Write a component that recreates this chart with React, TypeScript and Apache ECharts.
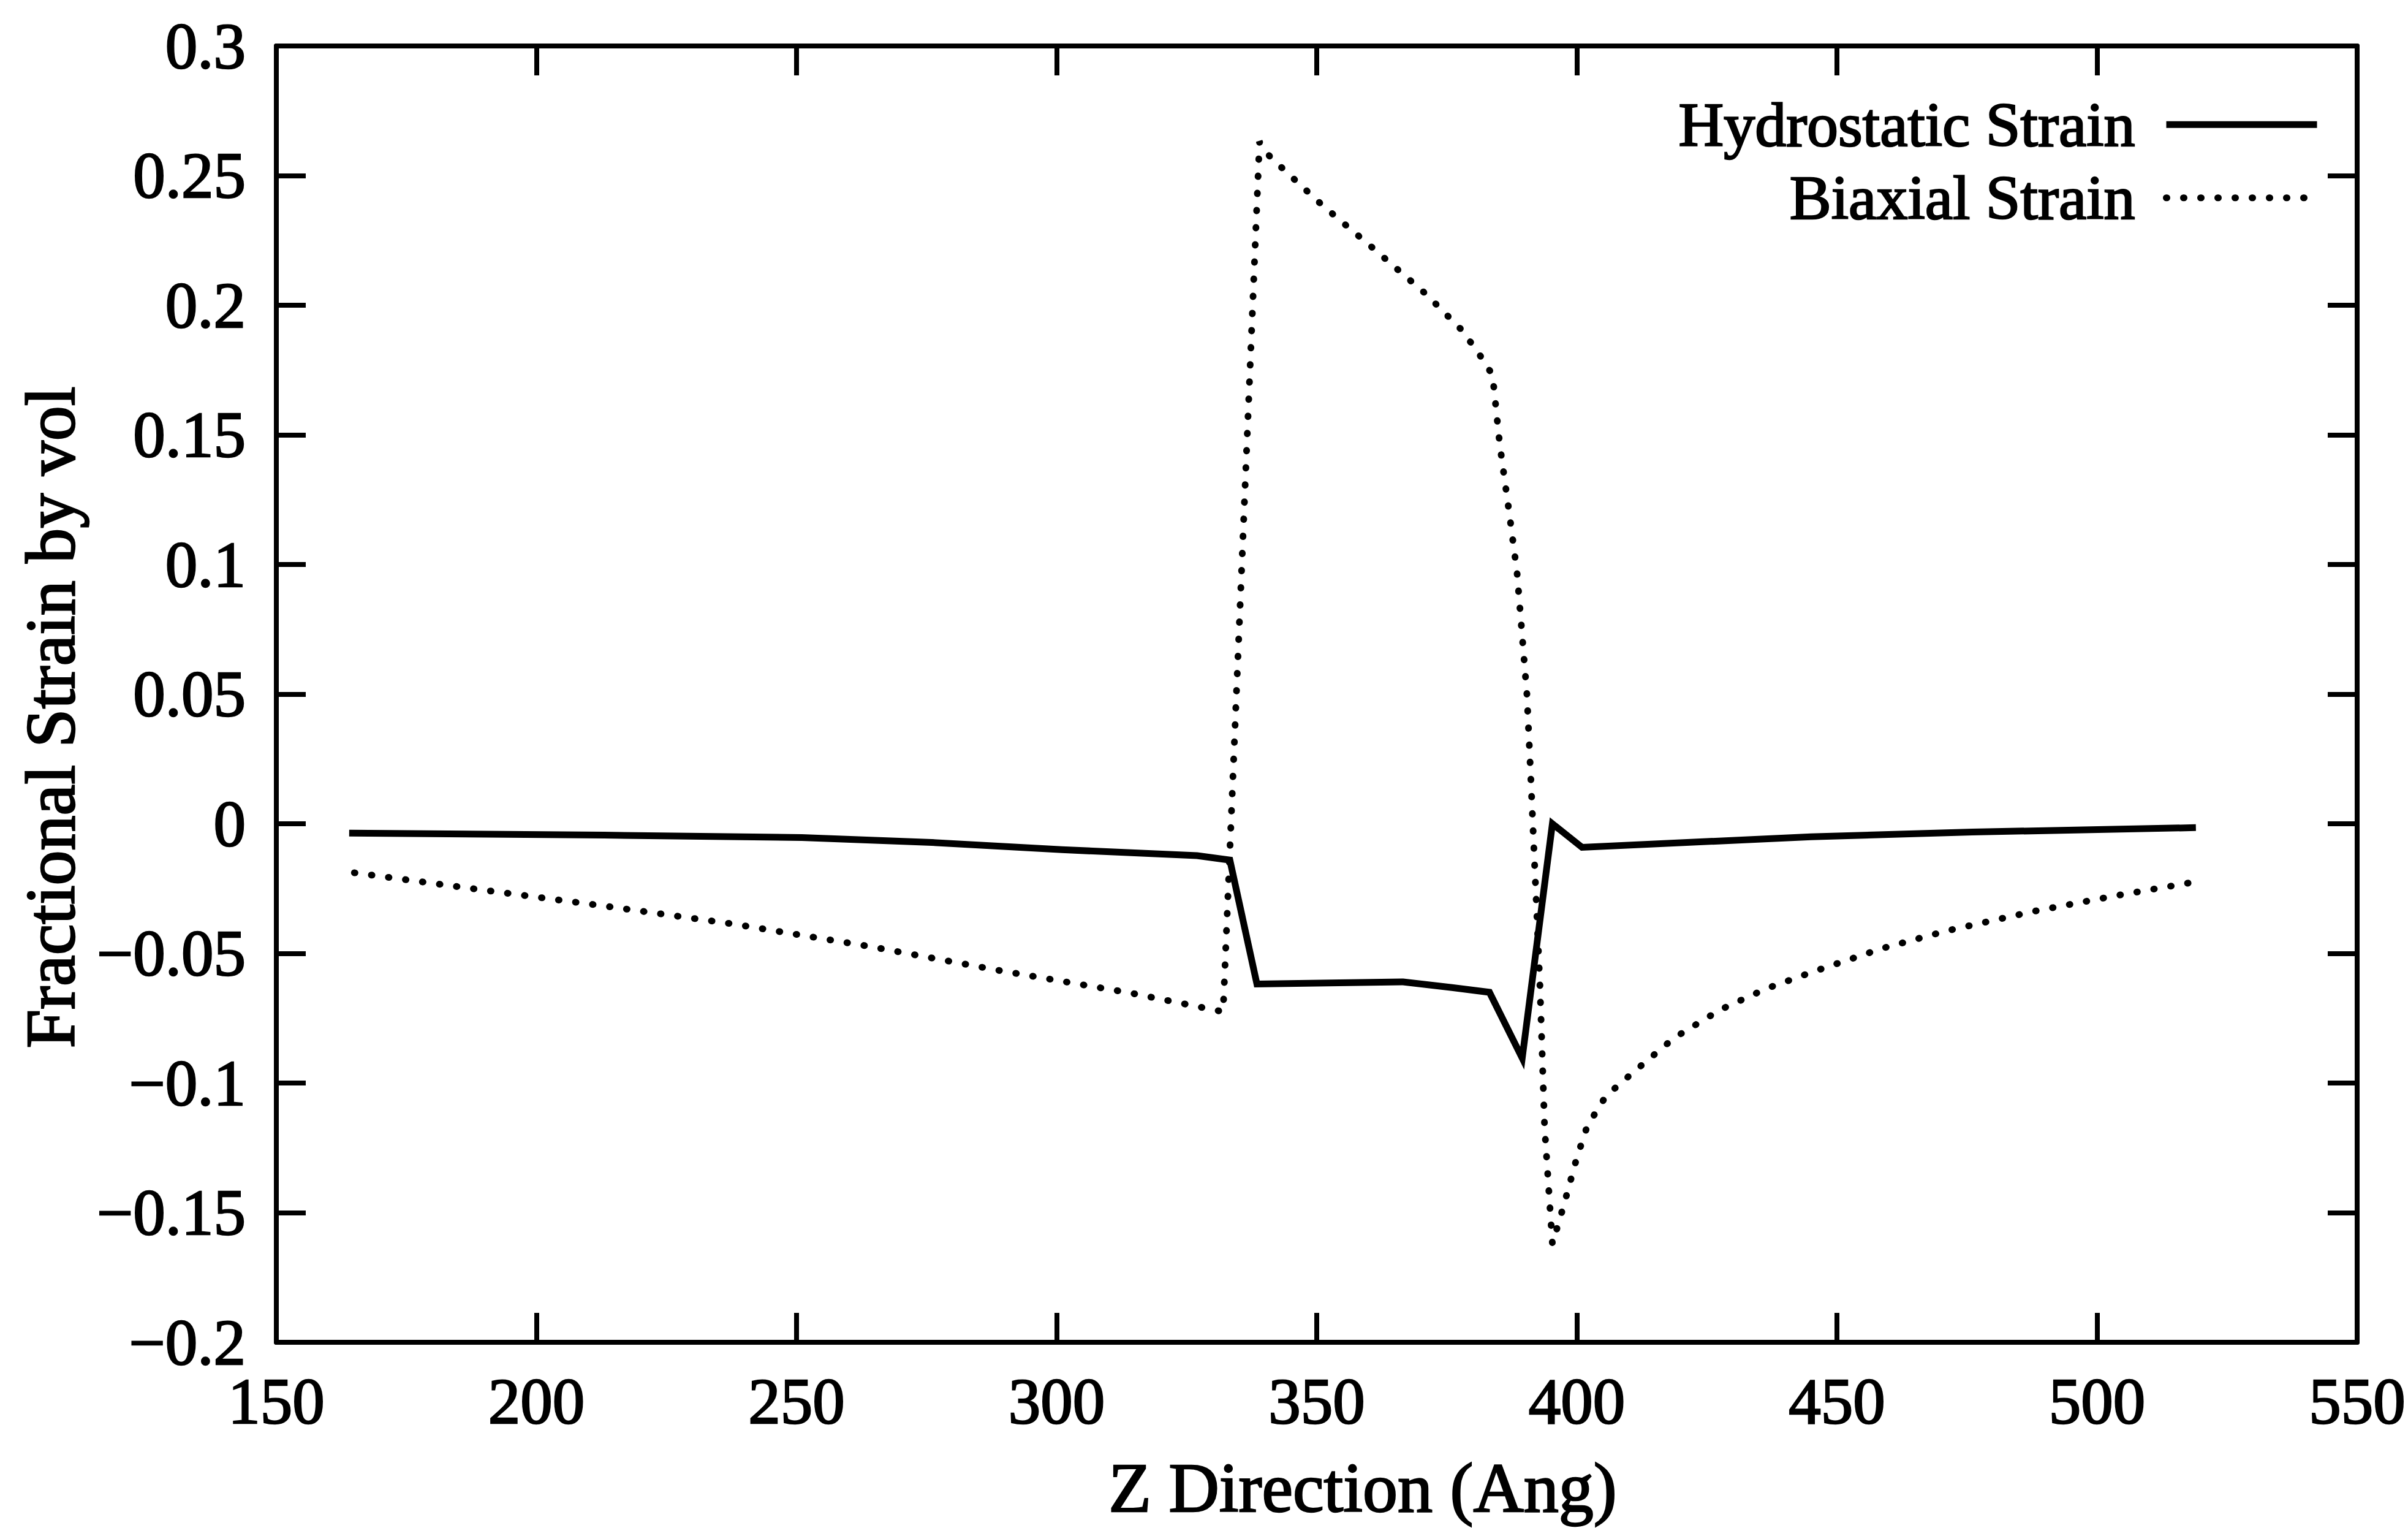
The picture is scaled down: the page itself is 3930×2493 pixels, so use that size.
import React, { useEffect, useRef } from "react";
import * as echarts from "echarts";

// Z positions (Angstrom) and values
const zHydro = [164, 213, 251, 276, 301, 327, 333.3, 338.5, 366.6, 376, 383.2, 389.5, 395.3, 401, 445, 476, 519];
const hydrostatic = [-0.0036, -0.0044, -0.0053, -0.0072, -0.01, -0.0123, -0.014, -0.0618, -0.061, -0.0632, -0.065, -0.0904, 0.0, -0.0091, -0.005, -0.0032, -0.0015];

const zBiax = [165, 188, 213, 238, 264, 289, 314, 332, 339, 341, 351, 361, 371, 378, 382, 383.8, 385.2, 387, 388.5, 390.4, 391.1, 392.9, 393.8, 395.3, 397.4, 400, 402, 405.6, 411, 418.7, 427.6, 436.4, 445.8, 458.8, 471.3, 488, 504, 517.5];
const biaxial = [-0.0189, -0.0251, -0.0317, -0.0387, -0.0473, -0.0566, -0.0652, -0.0725, 0.263, 0.2573, 0.2387, 0.2217, 0.2043, 0.1902, 0.1789, 0.173, 0.146, 0.12, 0.097, 0.05, 0.02, -0.062, -0.117, -0.162, -0.1478, -0.1288, -0.1166, -0.105, -0.0956, -0.0826, -0.0717, -0.0636, -0.0568, -0.048, -0.0412, -0.0337, -0.0276, -0.0229];

const seriesNames = ["Hydrostatic Strain", "Biaxial Strain"];
const xTitle = "Z Direction (Ang)";
const yTitle = "Fractional Strain by vol";
const xMin = 150, xMax = 550, xStep = 50;
const yMin = -0.2, yMax = 0.3, yStep = 0.05;

const FONT = '"Liberation Serif", "Times New Roman", serif';
const INK = { textBorderColor: "#000", textBorderWidth: 2.5 };

function fmtY(v: number): string {
  const r = Math.round(v * 100) / 100;
  const s = String(r === 0 ? 0 : r);
  return s.replace("-", "\u2212");
}

export default function App() {
  const ref = useRef<HTMLDivElement>(null);
  useEffect(() => {
    if (!ref.current) return;
    const chart = echarts.init(ref.current, null, { renderer: "svg" });
    const axisLine = { show: true, onZero: false, lineStyle: { color: "#000", width: 8 } };
    const axisTick = { show: true, inside: true, length: 48, lineStyle: { color: "#000", width: 8 } };
    const hydroData = zHydro.map((z, i) => [z, hydrostatic[i]]);
    const biaxData = zBiax.map((z, i) => [z, biaxial[i]]);
    const dotted = [1, 27];
    chart.setOption({
      animation: false,
      backgroundColor: "#fff",
      grid: { left: 451, right: 45, top: 75, bottom: 303, containLabel: false },
      legend: {
        orient: "vertical",
        align: "right",
        right: 138,
        top: 146,
        itemWidth: 246,
        itemHeight: 24,
        itemGap: 15,
        selectedMode: false,
        itemStyle: { opacity: 0 },
        data: [
          { name: seriesNames[0], lineStyle: { width: 11, type: "solid", color: "#000" }, itemStyle: { opacity: 0 } },
          { name: seriesNames[1], lineStyle: { width: 11, type: dotted, cap: "round", color: "#000" }, itemStyle: { opacity: 0 } },
        ],
        textStyle: {
          fontFamily: FONT,
          fontSize: 102,
          color: "#000",
          lineHeight: 100,
          padding: [0, 46, 0, 0],
          ...INK,
        },
      },
      xAxis: [
        {
          type: "value",
          position: "bottom",
          min: xMin,
          max: xMax,
          interval: xStep,
          axisLine,
          axisTick,
          splitLine: { show: false },
          axisLabel: { fontFamily: FONT, fontSize: 105, color: "#000", margin: 44, ...INK },
          name: xTitle,
          nameLocation: "middle",
          nameGap: 180,
          nameTextStyle: { fontFamily: FONT, fontSize: 114, color: "#000", padding: [0, 0, 0, 150], ...INK },
        },
        {
          type: "value",
          position: "top",
          min: xMin,
          max: xMax,
          interval: xStep,
          axisLine,
          axisTick,
          splitLine: { show: false },
          axisLabel: { show: false },
        },
      ],
      yAxis: [
        {
          type: "value",
          position: "left",
          min: yMin,
          max: yMax,
          interval: yStep,
          axisLine,
          axisTick,
          splitLine: { show: false },
          axisLabel: { fontFamily: FONT, fontSize: 105, color: "#000", margin: 50, formatter: fmtY, ...INK },
          name: yTitle,
          nameLocation: "middle",
          nameGap: 312,
          nameTextStyle: { fontFamily: FONT, fontSize: 114, color: "#000", padding: [0, 76, 0, 0], ...INK },
        },
        {
          type: "value",
          position: "right",
          min: yMin,
          max: yMax,
          interval: yStep,
          axisLine,
          axisTick,
          splitLine: { show: false },
          axisLabel: { show: false },
        },
      ],
      series: [
        {
          name: seriesNames[0],
          type: "line",
          xAxisIndex: 0,
          yAxisIndex: 0,
          symbol: "none",
          data: hydroData,
          lineStyle: { color: "#000", width: 11, type: "solid", join: "miter" },
          itemStyle: { color: "#000" },
          z: 3,
        },
        {
          name: seriesNames[1],
          type: "line",
          xAxisIndex: 0,
          yAxisIndex: 0,
          symbol: "none",
          data: biaxData,
          lineStyle: { color: "#000", width: 11, type: dotted, cap: "round" },
          itemStyle: { color: "#000" },
          z: 2,
        },
      ],
    });
    return () => chart.dispose();
  }, []);
  return (
    <div
      ref={ref}
      style={{ position: "fixed", left: 0, top: 0, width: 3930, height: 2493, background: "#fff" }}
    />
  );
}
